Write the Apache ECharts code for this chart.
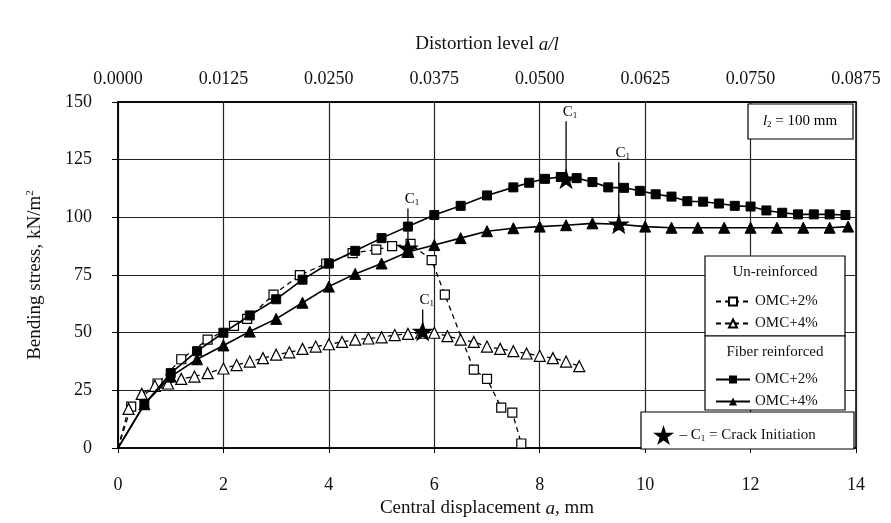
<!DOCTYPE html>
<html><head><meta charset="utf-8">
<script src="https://cdn.jsdelivr.net/npm/echarts@6/dist/echarts.min.js"></script>
<style>html,body{margin:0;padding:0;background:#fff}#c{width:891px;height:523px}</style>
</head><body><div id="c"></div>
<script>
// ---------- DATA ----------
const xTicks = [0, 2, 4, 6, 8, 10, 12, 14];
const topTicks = ['0.0000','0.0125','0.0250','0.0375','0.0500','0.0625','0.0750','0.0875'];
const yTicks = [0, 25, 50, 75, 100, 125, 150];

const un2X = [0, 0.25, 0.75, 1.2, 1.7, 2.2, 2.45, 2.95, 3.45, 3.95, 4.45, 4.9, 5.2, 5.55, 5.95, 6.2, 6.75, 7.0, 7.27, 7.48, 7.65];
const un2Y = [0, 18, 28, 38.5, 47, 53, 56, 66.5, 75, 80, 84.5, 86, 87.5, 88.5, 81.5, 66.5, 34, 30, 17.5, 15.4, 2];

const un4X = [0, 0.2, 0.45, 0.7, 0.95, 1.2, 1.45, 1.7, 2.0, 2.25, 2.5, 2.75, 3.0, 3.25, 3.5, 3.75, 4.0, 4.25, 4.5, 4.75, 5.0, 5.25, 5.5, 5.75, 6.0, 6.25, 6.5, 6.75, 7.0, 7.25, 7.5, 7.75, 8.0, 8.25, 8.5, 8.75];
const un4Y = [0, 17, 23.5, 27, 28, 30, 31, 32.5, 34.5, 36, 37.5, 39, 40.5, 41.5, 43, 44, 45, 46, 47, 47.5, 48, 49, 49.5, 50, 50, 48.5, 47, 46, 44, 43, 42, 41, 40, 39, 37.5, 35.5];

const fib2X = [0, 0.5, 1.0, 1.5, 2.0, 2.5, 3.0, 3.5, 4.0, 4.5, 5.0, 5.5, 6.0, 6.5, 7.0, 7.5, 7.8, 8.1, 8.4, 8.7, 9.0, 9.3, 9.6, 9.9, 10.2, 10.5, 10.8, 11.1, 11.4, 11.7, 12.0, 12.3, 12.6, 12.9, 13.2, 13.5, 13.8];
const fib2Y = [0, 19, 32.5, 42, 50, 57.5, 64.5, 73, 80, 85.5, 91, 96, 101, 105, 109.5, 113, 115, 116.7, 117.5, 117, 115.3, 113, 112.8, 111.5, 110, 109, 107, 106.8, 106, 105, 104.7, 103, 102, 101.3, 101.3, 101.3, 101];

const fib4X = [0, 0.5, 1.0, 1.5, 2.0, 2.5, 3.0, 3.5, 4.0, 4.5, 5.0, 5.5, 6.0, 6.5, 7.0, 7.5, 8.0, 8.5, 9.0, 9.5, 10.0, 10.5, 11.0, 11.5, 12.0, 12.5, 13.0, 13.5, 13.85];
const fib4Y = [0, 19, 31, 38.5, 44.5, 50.5, 56, 63, 70, 75.5, 80, 85, 88, 91, 94, 95.3, 96, 96.6, 97.4, 97, 96, 95.5, 95.5, 95.5, 95.5, 95.5, 95.5, 95.5, 96];

const crackX = [5.5, 5.78, 8.5, 9.5];
const crackY = [86.5, 50.5, 116.5, 97];

// ---------- STYLE ----------
const leaderPx = [40, 22, 58, 62];
const FONT = '"Liberation Serif", "DejaVu Serif", serif';
const starD = 'M50,0 L61,35 L98,35 L68,57 L79,91 L50,70 L21,91 L32,57 L2,35 L39,35 Z';

function pts(xs, ys) {
  return xs.map((x, i) => x === 0 ? { value: [x, ys[i]], symbol: 'none' } : [x, ys[i]]);
}

const chart = echarts.init(document.getElementById('c'), null, { renderer: 'canvas' });

const subRich = {
  c: { fontFamily: FONT, fontSize: 15, color: '#000' },
  s: { fontFamily: FONT, fontSize: 9, color: '#000', padding: [8, 0, 0, 0] }
};

const option = {
  backgroundColor: '#fff',
  animation: false,
  grid: { left: 118, right: 35, top: 102, bottom: 70, show: true, borderColor: '#000', borderWidth: 1.5, backgroundColor: 'transparent' },
  xAxis: [
    {
      type: 'value', min: 0, max: 14, interval: 2, position: 'bottom',
      axisLine: { show: true, lineStyle: { color: '#000', width: 1.5 } },
      axisTick: { show: true, length: 5, lineStyle: { color: '#000' } },
      axisLabel: { fontFamily: FONT, fontSize: 18, color: '#111', margin: 28,
        formatter: v => xTicks.includes(v) ? String(v) : '' },
      splitLine: { show: true, lineStyle: { color: '#222', width: 1.2 } },
      name: 'Central displacement {i|a}, mm', nameLocation: 'middle', nameGap: 50,
      nameTextStyle: { fontFamily: FONT, fontSize: 19, color: '#111',
        rich: { i: { fontFamily: FONT, fontSize: 19, fontStyle: 'italic', color: '#111' } } }
    },
    {
      type: 'value', min: 0, max: 0.0875, interval: 0.0125, position: 'top',
      axisLine: { show: true, lineStyle: { color: '#000', width: 1.5 } },
      axisTick: { show: false },
      axisLabel: { fontFamily: FONT, fontSize: 18, color: '#111', margin: 14,
        formatter: (v) => topTicks[Math.round(v / 0.0125)] },
      splitLine: { show: false },
      name: 'Distortion level {i|a/l}', nameLocation: 'middle', nameGap: 48,
      nameTextStyle: { fontFamily: FONT, fontSize: 19, color: '#111',
        rich: { i: { fontFamily: FONT, fontSize: 19, fontStyle: 'italic', color: '#111' } } }
    }
  ],
  yAxis: {
    type: 'value', min: 0, max: 150, interval: 25,
    axisLine: { show: true, lineStyle: { color: '#000', width: 1.5 } },
    axisTick: { show: true, length: 6, lineStyle: { color: '#000' } },
    axisLabel: { fontFamily: FONT, fontSize: 18, color: '#111', margin: 26,
      formatter: v => yTicks.includes(v) ? String(v) : '' },
    splitLine: { show: true, lineStyle: { color: '#222', width: 1.2 } },
    name: 'Bending stress, kN/m{sup|2}', nameLocation: 'middle', nameGap: 72,
    nameTextStyle: { fontFamily: FONT, fontSize: 19, color: '#111',
      rich: { sup: { fontFamily: FONT, fontSize: 11, color: '#111', padding: [0, 0, 10, 0] } } }
  },
  legend: [
    { left: 710, top: 289, orient: 'vertical', itemGap: 7, itemWidth: 34, itemHeight: 10, z: 100,
      data: ['Un-reinforced OMC+2%', 'Un-reinforced OMC+4%'],
      formatter: n => n.replace('Un-reinforced ', ''),
      textStyle: { fontFamily: FONT, fontSize: 15, color: '#111' }, selectedMode: false },
    { left: 710, top: 367, orient: 'vertical', itemGap: 7, itemWidth: 34, itemHeight: 10, z: 100,
      data: ['Fiber reinforced OMC+2%', 'Fiber reinforced OMC+4%'],
      formatter: n => n.replace('Fiber reinforced ', ''),
      textStyle: { fontFamily: FONT, fontSize: 15, color: '#111' }, selectedMode: false },
    { left: 648, top: 420, itemWidth: 22, itemHeight: 20, z: 100,
      data: [{ name: 'Crack initiation', icon: 'path://' + starD, itemStyle: { color: '#000' } }],
      formatter: () => '– {c|C}{s|1} = Crack Initiation',
      textStyle: { fontFamily: FONT, fontSize: 15, color: '#111', rich: subRich }, selectedMode: false }
  ],
  graphic: [
    { type: 'rect', shape: { x: 705, y: 256, width: 140, height: 80 }, style: { fill: '#fff', stroke: '#000', lineWidth: 1.2 }, z: 50 },
    { type: 'rect', shape: { x: 705, y: 336, width: 140, height: 74 }, style: { fill: '#fff', stroke: '#000', lineWidth: 1.2 }, z: 50 },
    { type: 'rect', shape: { x: 641, y: 412, width: 213, height: 37 }, style: { fill: '#fff', stroke: '#000', lineWidth: 1.2 }, z: 50 },
    { type: 'text', x: 775, y: 272, style: { text: 'Un-reinforced', fontFamily: FONT, fontSize: 15, fill: '#111', align: 'center', verticalAlign: 'middle' }, z: 51 },
    { type: 'text', x: 775, y: 352, style: { text: 'Fiber reinforced', fontFamily: FONT, fontSize: 15, fill: '#111', align: 'center', verticalAlign: 'middle' }, z: 51 },
    { type: 'rect', shape: { x: 748, y: 104, width: 105, height: 35 }, style: { fill: '#fff', stroke: '#000', lineWidth: 1.2 }, z: 50 },
    { type: 'text', x: 800, y: 121, style: {
        text: '{i|l}{s|2} = 100 mm', align: 'center', verticalAlign: 'middle',
        rich: { i: { fontFamily: FONT, fontSize: 15, fontStyle: 'italic', fill: '#000' },
                s: { fontFamily: FONT, fontSize: 9, fill: '#000', padding: [8, 0, 0, 0] } },
        fontFamily: FONT, fontSize: 15, fill: '#000' }, z: 51 }
  ],
  series: [
    { name: 'Un-reinforced OMC+2%', type: 'line', data: pts(un2X, un2Y), showAllSymbol: true,
      symbol: 'rect', symbolSize: 9, z: 3,
      lineStyle: { color: '#000', width: 1.3, type: [5, 4] },
      itemStyle: { color: '#fff', borderColor: '#000', borderWidth: 1.2 } },
    { name: 'Un-reinforced OMC+4%', type: 'line', data: pts(un4X, un4Y), showAllSymbol: true,
      symbol: 'triangle', symbolSize: 11, z: 3,
      lineStyle: { color: '#000', width: 1.3, type: [5, 4] },
      itemStyle: { color: '#fff', borderColor: '#000', borderWidth: 1.2 } },
    { name: 'Fiber reinforced OMC+2%', type: 'line', data: pts(fib2X, fib2Y), showAllSymbol: true,
      symbol: 'rect', symbolSize: 9, z: 4,
      lineStyle: { color: '#000', width: 1.6 },
      itemStyle: { color: '#000', borderColor: '#000' } },
    { name: 'Fiber reinforced OMC+4%', type: 'line', data: pts(fib4X, fib4Y), showAllSymbol: true,
      symbol: 'triangle', symbolSize: 11, z: 4,
      lineStyle: { color: '#000', width: 1.6 },
      itemStyle: { color: '#000', borderColor: '#000' } },
    { name: 'Crack initiation', type: 'custom', z: 10,
      data: crackX.map((x, i) => [x, crackY[i]]),
      itemStyle: { color: '#000' },
      renderItem: (params, api) => {
        const p = api.coord([api.value(0), api.value(1)]);
        const L = leaderPx[params.dataIndex];
        return { type: 'group', children: [
          { type: 'line', shape: { x1: p[0], y1: p[1] - L, x2: p[0], y2: p[1] }, style: { stroke: '#000', lineWidth: 1.3 } },
          { type: 'path', shape: { pathData: starD, x: p[0] - 11, y: p[1] - 11, width: 22, height: 21 }, style: { fill: '#000' } },
          { type: 'text', x: p[0] + 4, y: p[1] - L - 1, style: { text: '{c|C}{s|1}', align: 'center', verticalAlign: 'bottom', rich: subRich } }
        ] };
      }
    }
  ]
};
chart.setOption(option);
</script>
</body></html>
